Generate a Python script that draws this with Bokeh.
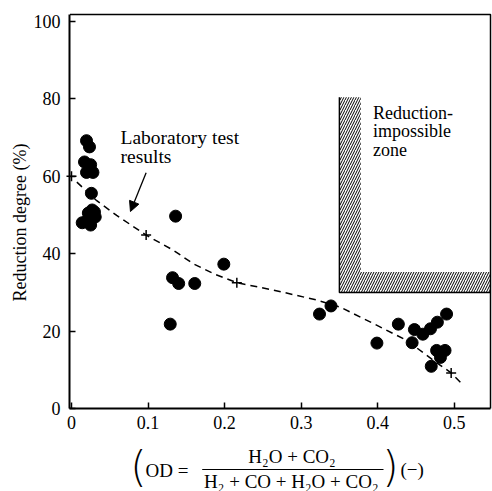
import math
from bokeh.plotting import figure
from bokeh.models import Range1d, FixedTicker, Arrow, NormalHead
from bokeh.embed import file_html
from bokeh.resources import INLINE
from bokeh.core.properties import value

FONT = "Liberation Serif"
PAREN_FONT = "DejaVu Sans Light, Liberation Serif"

# ---- data ----
od_points = [0.0196, 0.0235, 0.017, 0.025, 0.0196, 0.028, 0.026, 0.014, 0.021, 0.027,
             0.031, 0.025, 0.022, 0.030, 0.136, 0.132, 0.140, 0.161, 0.199, 0.129,
             0.324, 0.339, 0.399, 0.427, 0.445, 0.448, 0.459, 0.469, 0.478, 0.490,
             0.477, 0.488, 0.482, 0.470]
rd_points = [69.2, 67.6, 63.7, 63.0, 61.0, 61.0, 55.6, 48.0, 48.7, 51.3,
             49.5, 47.4, 50.5, 50.8, 49.7, 33.8, 32.3, 32.3, 37.3, 21.8,
             24.4, 26.5, 16.9, 21.8, 17.0, 20.4, 19.2, 20.6, 22.3, 24.4,
             15.0, 15.0, 13.2, 10.9]

lab_curve_od = [0.007, 0.033, 0.059, 0.0975, 0.133, 0.159, 0.186, 0.216, 0.264,
                0.321, 0.351, 0.394, 0.438, 0.473, 0.496, 0.51]
lab_curve_rd = [58.5, 53.7, 49.9, 44.8, 40.9, 37.4, 34.8, 32.5, 30.6,
                28.0, 26.2, 22.0, 17.6, 12.4, 9.2, 6.4]

lab_marks_od = [0.0, 0.0975, 0.216, 0.496]
lab_marks_rd = [60.0, 44.8, 32.5, 9.2]

x_ticks = [0, 0.1, 0.2, 0.3, 0.4, 0.5]
x_tick_labels = ["0", "0.1", "0.2", "0.3", "0.4", "0.5"]
y_ticks = [0, 20, 40, 60, 80, 100]
y_tick_labels = ["0", "20", "40", "60", "80", "100"]
y_title = "Reduction degree (%)"

# axes box in data units
AX_X0, AX_X1 = -0.002, 0.5474
AX_Y0, AX_Y1 = 0.0, 101.8

zone_od = [0.350, 0.378, 0.378, AX_X1, AX_X1, 0.350]
zone_rd = [80.4, 80.4, 35.3, 35.3, 30.0, 30.0]

# the frame covers the whole page; axes are fixed inside it
PX_PER_X = 765.45
PX_PER_Y = 3.87
X_ORIGIN_PX, Y_ORIGIN_PX = 71, 408
X_MIN = -X_ORIGIN_PX / PX_PER_X
X_MAX = X_MIN + 492 / PX_PER_X
Y_MAX = Y_ORIGIN_PX / PX_PER_Y
Y_MIN = Y_MAX - 491 / PX_PER_Y


def X(px):  # page pixel -> data x (text layout only)
    return X_MIN + px / PX_PER_X


def Y(py):  # page pixel -> data y
    return Y_MAX - py / PX_PER_Y


p = figure(width=492, height=491, output_backend="svg", toolbar_location=None,
           x_range=Range1d(X_MIN, X_MAX), y_range=Range1d(Y_MIN, Y_MAX),
           min_border=0)
p.grid.visible = False
p.outline_line_color = None
p.background_fill_color = "white"
p.border_fill_color = "white"

p.xaxis.fixed_location = AX_Y0
p.yaxis.fixed_location = AX_X0
p.xaxis.bounds = (AX_X0, AX_X1)
p.yaxis.bounds = (AX_Y0, AX_Y1)
p.xaxis.ticker = FixedTicker(ticks=x_ticks)
p.yaxis.ticker = FixedTicker(ticks=y_ticks)
p.xaxis.major_label_overrides = {t: "" for t in x_ticks}
p.yaxis.major_label_overrides = {t: "" for t in y_ticks}
for ax in (p.xaxis, p.yaxis):
    ax.axis_line_width = 2
    ax.axis_line_color = "black"
    ax.major_tick_in = 6
    ax.major_tick_out = 0
    ax.major_tick_line_width = 1.5
    ax.minor_tick_line_color = None


def txt(x, y, t, size="18px", align="left", font=FONT, angle=0.0):
    p.text(x=[x], y=[y], text=[t], text_font=value(font), text_font_size=size,
           text_baseline="middle", text_align=align, text_color="black", angle=angle)


# tick labels and y title (drawn as text glyphs so the serif face is used)
p.text(x=x_ticks, y=[Y(422)] * len(x_ticks), text=x_tick_labels,
       text_font=value(FONT), text_font_size="18px", text_baseline="middle",
       text_align="center", text_color="black")
p.text(x=[X(60)] * len(y_ticks), y=y_ticks, text=y_tick_labels,
       text_font=value(FONT), text_font_size="18px", text_baseline="middle",
       text_align="right", text_color="black")
txt(X(19), Y(222), y_title, align="center", angle=math.pi / 2)

# top and right lines of the box
p.line([AX_X0, AX_X1, AX_X1], [AX_Y1, AX_Y1, AX_Y0], line_color="black", line_width=1.5)

# reduction-impossible zone
p.patch(zone_od, zone_rd, fill_alpha=0, line_color=None,
        hatch_pattern="/", hatch_color="black", hatch_scale=5, hatch_weight=1)
p.line([zone_od[0], zone_od[5], zone_od[4]], [zone_rd[0], zone_rd[5], zone_rd[4]],
       line_color="black", line_width=1.5)

# laboratory test curve
p.line(lab_curve_od, lab_curve_rd, line_color="black", line_width=1.5, line_dash="7 5")
p.scatter(lab_marks_od, lab_marks_rd, marker="cross", size=10, line_color="black",
          line_width=1.5)

# measured points
p.scatter(od_points, rd_points, marker="circle", size=12, fill_color="black",
          line_color="black")

# arrow to the curve
p.add_layout(Arrow(end=NormalHead(size=10, fill_color="black", line_color="black"),
                   x_start=0.0975, y_start=60.9, x_end=0.077, y_end=50.9,
                   line_width=1.3, line_color="black"))

txt(0.064, 69.9, "Laboratory test", size="19.5px")
txt(0.064, 65.0, "results", size="19.5px")
txt(0.394, 76.4, "Reduction-")
txt(0.394, 71.8, "impossible")
txt(0.394, 66.8, "zone")

# x axis title (formula)
txt(X(138), Y(467), "(", size="42px", align="center", font=PAREN_FONT)
txt(X(145), Y(470), "OD =", size="19px")
txt(X(291.5), Y(456), "H₂O + CO₂", size="19px", align="center")
p.line([X(201.7), X(383)], [Y(469), Y(469)], line_color="black", line_width=1.2)
txt(X(290.8), Y(481), "H₂ + CO + H₂O + CO₂", size="19px", align="center")
txt(X(390), Y(467), ")", size="42px", align="center", font=PAREN_FONT)
txt(X(400), Y(469), "(−)", size="19px")

open("out.html", "w").write(file_html(p, INLINE))
